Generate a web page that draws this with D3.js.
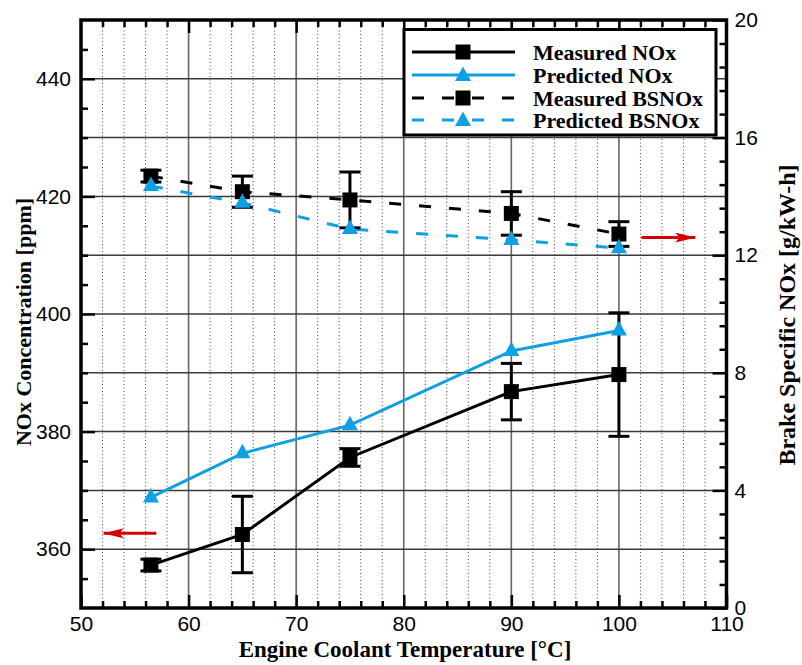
<!DOCTYPE html>
<html>
<head>
<meta charset="utf-8">
<script src="https://cdn.jsdelivr.net/npm/d3@7"></script>
<style>
  html, body { margin: 0; padding: 0; background: #fff; }
  svg { display: block; }
  .tick text { font-family: "Liberation Sans", Arial, sans-serif; font-size: 21px; fill: #000; }
  .title { font-family: "Liberation Serif", "Times New Roman", serif; font-weight: bold; fill: #000; }
</style>
</head>
<body>
<svg id="chart" width="802" height="665"></svg>
<script>
// Engine coolant temperature [°C]
const temperature = [56.5, 65, 75, 90, 100];
// NOx concentration [ppm]
const measuredNOx = [357.3, 362.5, 375.6, 386.8, 389.7];
const measuredNOxErr = [1.0, 6.5, 1.5, 4.8, 10.5];
const predictedNOx = [368.8, 376.3, 381.1, 393.7, 397.2];
// Brake specific NOx [g/kW-h]
const measuredBSNOx = [14.69, 14.16, 13.88, 13.42, 12.72];
const measuredBSNOxErr = [0.2, 0.53, 0.95, 0.74, 0.42];
const predictedBSNOx = [14.35, 13.78, 12.89, 12.52, 12.24];

const legendLabels = ["Measured NOx", "Predicted NOx", "Measured BSNOx", "Predicted BSNOx"];

const BLUE = "#0f9fe3";
const RED = "#d40000";

const svg = d3.select("#chart");
const L = 81, R = 726.5, T = 20, B = 608;

const x = d3.scaleLinear().domain([50, 110]).range([L, R]);
const yL = d3.scaleLinear().domain([350, 450]).range([B, T]);
const yR = d3.scaleLinear().domain([0, 20]).range([B, T]);

// ---- grid ----
const grid = svg.append("g");
const minorX = d3.range(52, 110, 2).filter(v => v % 10 !== 0);
grid.selectAll(".vdot").data(minorX).join("line")
  .attr("x1", d => x(d)).attr("x2", d => x(d)).attr("y1", T).attr("y2", B)
  .attr("stroke", "#444").attr("stroke-width", 1).attr("stroke-dasharray", "1,2.5");
grid.selectAll(".vsol").data(d3.range(60, 110, 10)).join("line")
  .attr("x1", d => x(d)).attr("x2", d => x(d)).attr("y1", T).attr("y2", B)
  .attr("stroke", "#666").attr("stroke-width", 1.6);
grid.selectAll(".hsol").data(d3.range(360, 450, 10)).join("line")
  .attr("x1", L).attr("x2", R).attr("y1", d => yL(d)).attr("y2", d => yL(d))
  .attr("stroke", "#3a3a3a").attr("stroke-width", 1.5);

// ---- axes ----
function styleAxis(g) {
  g.select(".domain").remove();
  g.selectAll(".tick line").attr("stroke", "#000").attr("stroke-width", 2.5);
}
// bottom
svg.append("g").attr("transform", `translate(0,${B})`)
  .call(d3.axisBottom(x).tickValues(minorX).tickSize(-7).tickFormat(""))
  .call(styleAxis);
svg.append("g").attr("transform", `translate(0,${B})`)
  .call(d3.axisBottom(x).tickValues(d3.range(50, 111, 10)).tickSize(-13).tickPadding(8))
  .call(styleAxis)
  .selectAll("text").attr("dy", "0.72em");
// top
svg.append("g").attr("transform", `translate(0,${T})`)
  .call(d3.axisTop(x).tickValues(minorX).tickSize(-7).tickFormat(""))
  .call(styleAxis);
svg.append("g").attr("transform", `translate(0,${T})`)
  .call(d3.axisTop(x).tickValues(d3.range(60, 110, 10)).tickSize(-13).tickFormat(""))
  .call(styleAxis);
// left (ppm)
svg.append("g").attr("transform", `translate(${L},0)`)
  .call(d3.axisLeft(yL).tickValues(d3.range(355, 450, 5).filter(v => v % 20 !== 0)).tickSize(-7).tickFormat(""))
  .call(styleAxis);
svg.append("g").attr("transform", `translate(${L},0)`)
  .call(d3.axisLeft(yL).tickValues(d3.range(360, 450, 20)).tickSize(-14).tickPadding(10))
  .call(styleAxis);
// right (g/kW-h)
const minorR = d3.range(0, 101, 4).map(v => v / 5).filter(v => v % 4 !== 0 && v > 0 && v < 20);
svg.append("g").attr("transform", `translate(${R},0)`)
  .call(d3.axisRight(yR).tickValues(minorR).tickSize(-7).tickFormat(""))
  .call(styleAxis);
svg.append("g").attr("transform", `translate(${R},0)`)
  .call(d3.axisRight(yR).tickValues(d3.range(0, 21, 4)).tickSize(-14).tickPadding(8))
  .call(styleAxis);

// frame
svg.append("rect").attr("x", L).attr("y", T).attr("width", R - L).attr("height", B - T)
  .attr("fill", "none").attr("stroke", "#000").attr("stroke-width", 3.5);

// ---- series ----
const plot = svg.append("g");
function series(vals, y) { return temperature.map((t, i) => [x(t), y(vals[i])]); }
const line = d3.line();

plot.append("path").attr("d", line(series(measuredBSNOx, yR)))
  .attr("fill", "none").attr("stroke", "#000").attr("stroke-width", 3).attr("stroke-dasharray", "12,18");
plot.append("path").attr("d", line(series(predictedBSNOx, yR)))
  .attr("fill", "none").attr("stroke", BLUE).attr("stroke-width", 3).attr("stroke-dasharray", "12,18");
plot.append("path").attr("d", line(series(measuredNOx, yL)))
  .attr("fill", "none").attr("stroke", "#000").attr("stroke-width", 3);
plot.append("path").attr("d", line(series(predictedNOx, yL)))
  .attr("fill", "none").attr("stroke", BLUE).attr("stroke-width", 3);

// error bars
function errorBars(vals, errs, y) {
  const g = plot.append("g").attr("stroke", "#000").attr("stroke-width", 3);
  temperature.forEach((t, i) => {
    const cx = x(t), top = y(vals[i] + errs[i]), bot = y(vals[i] - errs[i]);
    g.append("line").attr("x1", cx).attr("x2", cx).attr("y1", top).attr("y2", bot);
    g.append("line").attr("x1", cx - 10.5).attr("x2", cx + 10.5).attr("y1", top).attr("y2", top);
    g.append("line").attr("x1", cx - 10.5).attr("x2", cx + 10.5).attr("y1", bot).attr("y2", bot);
  });
}
errorBars(measuredNOx, measuredNOxErr, yL);
errorBars(measuredBSNOx, measuredBSNOxErr, yR);

const squarePath = "M-7.5,-7.5H7.5V7.5H-7.5Z";
const trianglePath = "M0,-9.5L8,5L-8,5Z";
function markers(vals, y, path, color) {
  plot.append("g").selectAll("path").data(temperature).join("path")
    .attr("d", path).attr("fill", color)
    .attr("transform", (t, i) => `translate(${x(t)},${y(vals[i])})`);
}
markers(measuredNOx, yL, squarePath, "#000");
markers(measuredBSNOx, yR, squarePath, "#000");
markers(predictedNOx, yL, trianglePath, BLUE);
markers(predictedBSNOx, yR, trianglePath, BLUE);

// axis direction arrows
const defs = svg.append("defs");
defs.append("marker").attr("id", "redHead").attr("viewBox", "0 0 20 10")
  .attr("refX", 20).attr("refY", 5).attr("markerWidth", 20).attr("markerHeight", 10)
  .attr("markerUnits", "userSpaceOnUse").attr("orient", "auto")
  .append("path").attr("d", "M0,0L20,5L0,10L4,5Z").attr("fill", RED);
svg.append("line").attr("x1", x(57.0)).attr("x2", x(52.1)).attr("y1", yL(362.7)).attr("y2", yL(362.7))
  .attr("stroke", RED).attr("stroke-width", 3).attr("marker-end", "url(#redHead)");
svg.append("line").attr("x1", x(102.1)).attr("x2", x(107.1)).attr("y1", yR(12.6)).attr("y2", yR(12.6))
  .attr("stroke", RED).attr("stroke-width", 3).attr("marker-end", "url(#redHead)");

// ---- legend ----
const lg = svg.append("g");
lg.append("rect").attr("x", 404).attr("y", 29.5).attr("width", 312).attr("height", 105.5)
  .attr("fill", "#fff").attr("stroke", "#000").attr("stroke-width", 3);
const legendStyle = [
  { color: "#000", dash: null, path: squarePath },
  { color: BLUE, dash: null, path: trianglePath },
  { color: "#000", dash: "12,18", path: squarePath },
  { color: BLUE, dash: "12,18", path: trianglePath }
];
const rowY = [52, 75, 98, 120];
legendLabels.forEach((label, i) => {
  const s = legendStyle[i];
  lg.append("line").attr("x1", 412).attr("x2", 515).attr("y1", rowY[i]).attr("y2", rowY[i])
    .attr("stroke", s.color).attr("stroke-width", 3).attr("stroke-dasharray", s.dash);
  lg.append("path").attr("d", s.path).attr("fill", s.color)
    .attr("transform", `translate(463,${rowY[i] + (s.path === trianglePath ? 1 : 0)})`);
  lg.append("text").attr("class", "title").style("font-size", "22px")
    .attr("x", 533).attr("y", rowY[i]).attr("dy", "0.35em").text(label);
});

// ---- axis titles ----
svg.append("text").attr("class", "title").style("font-size", "23px")
  .attr("x", 405).attr("y", 657)
  .attr("text-anchor", "middle").text("Engine Coolant Temperature [°C]");
svg.append("text").attr("class", "title").style("font-size", "22px").attr("text-anchor", "middle")
  .attr("transform", "translate(31,322) rotate(-90)").text("NOx Concentration [ppm]");
svg.append("text").attr("class", "title").style("font-size", "24px").attr("text-anchor", "middle")
  .attr("transform", "translate(795,315) rotate(-90)").text("Brake Specific NOx [g/kW-h]");
</script>
</body>
</html>
